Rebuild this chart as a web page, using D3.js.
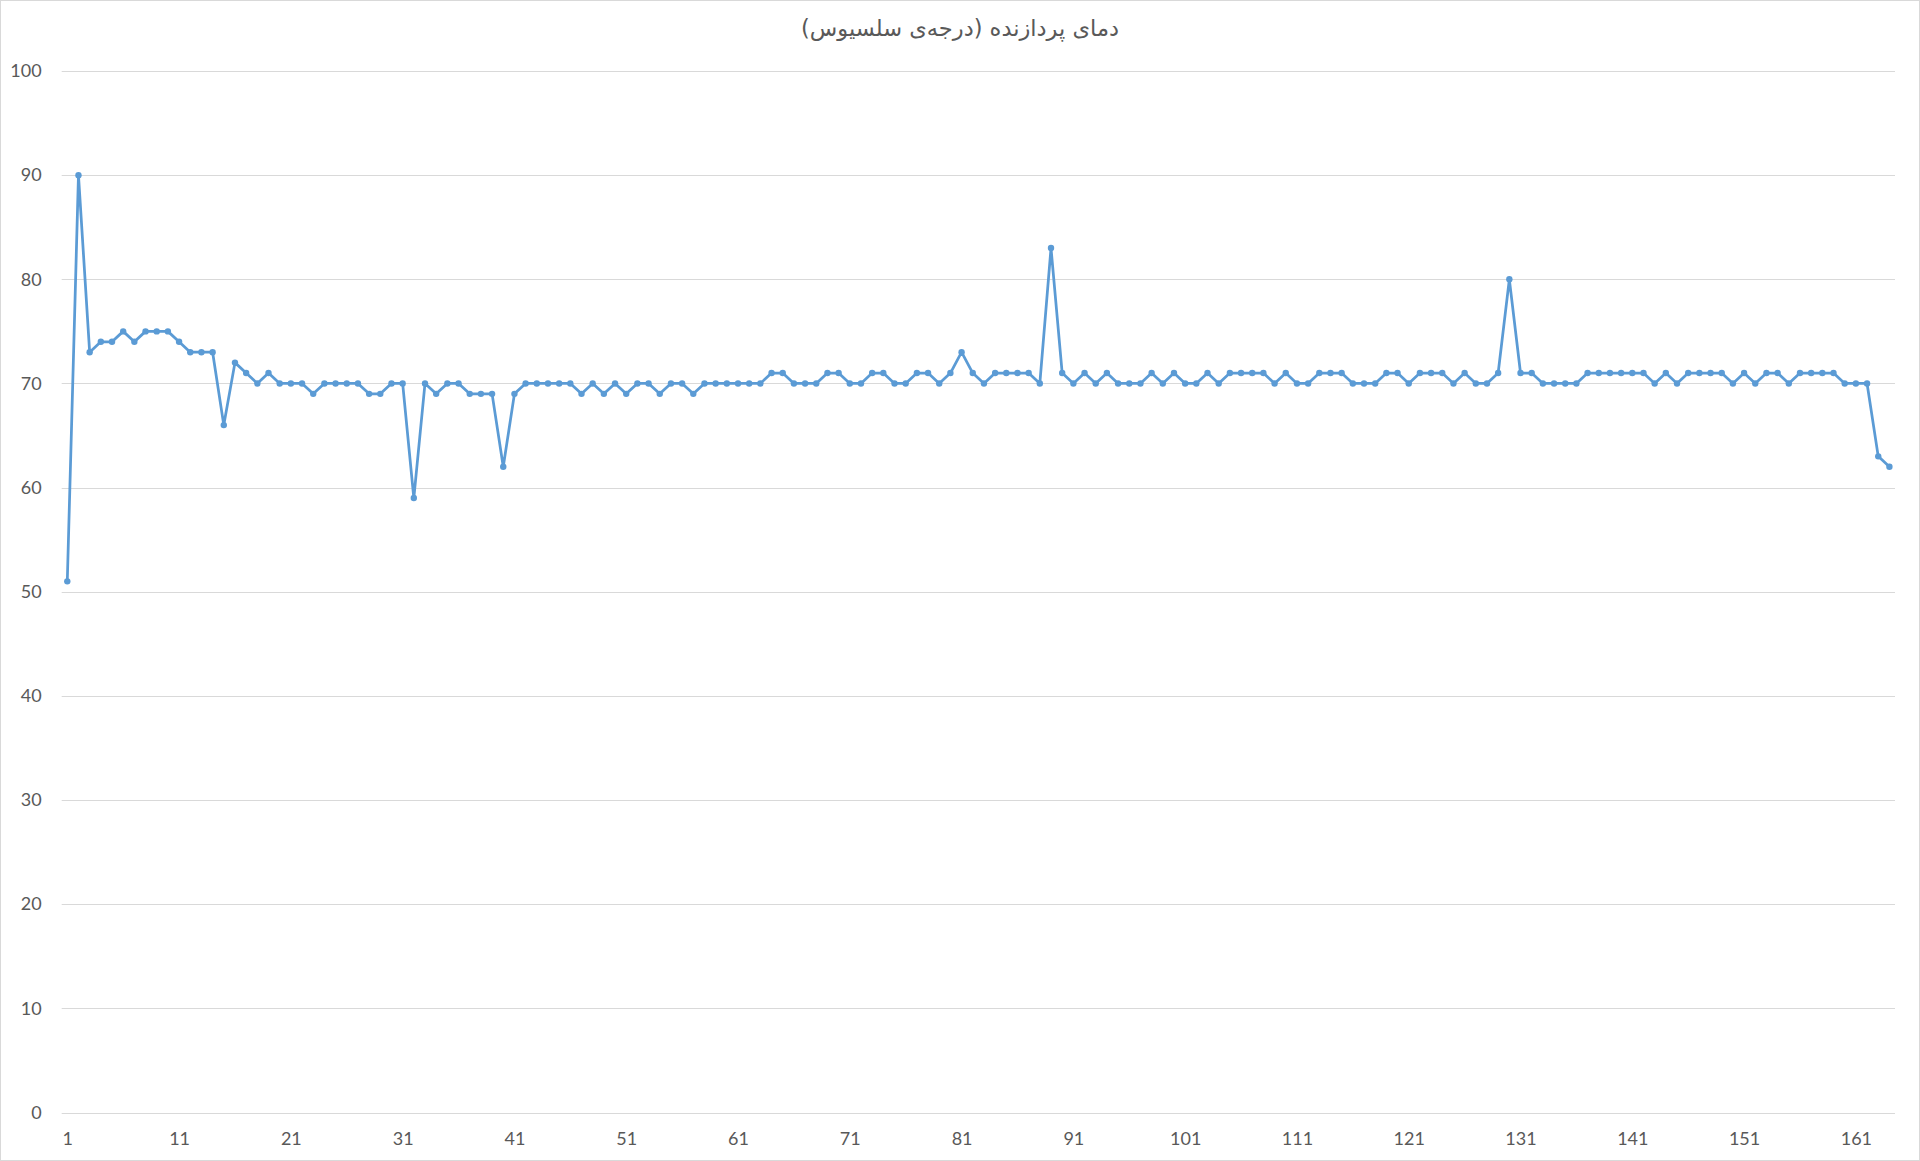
<!DOCTYPE html>
<html>
<head>
<meta charset="utf-8">
<script src="https://cdn.jsdelivr.net/npm/d3@7"></script>
<style>
  html, body { margin: 0; padding: 0; background: #fff; }
  svg { display: block; }
</style>
</head>
<body>
<svg id="chart" width="1920" height="1161"></svg>
<script>
const title = "دمای پردازنده (درجه‌ی سلسیوس)";
const temperatures = [
  51, 90, 73, 74, 74, 75, 74, 75, 75, 75,
  74, 73, 73, 73, 66, 72, 71, 70, 71, 70,
  70, 70, 69, 70, 70, 70, 70, 69, 69, 70,
  70, 59, 70, 69, 70, 70, 69, 69, 69, 62,
  69, 70, 70, 70, 70, 70, 69, 70, 69, 70,
  69, 70, 70, 69, 70, 70, 69, 70, 70, 70,
  70, 70, 70, 71, 71, 70, 70, 70, 71, 71,
  70, 70, 71, 71, 70, 70, 71, 71, 70, 71,
  73, 71, 70, 71, 71, 71, 71, 70, 83, 71,
  70, 71, 70, 71, 70, 70, 70, 71, 70, 71,
  70, 70, 71, 70, 71, 71, 71, 71, 70, 71,
  70, 70, 71, 71, 71, 70, 70, 70, 71, 71,
  70, 71, 71, 71, 70, 71, 70, 70, 71, 80,
  71, 71, 70, 70, 70, 70, 71, 71, 71, 71,
  71, 71, 70, 71, 70, 71, 71, 71, 71, 70,
  71, 70, 71, 71, 70, 71, 71, 71, 71, 70,
  70, 70, 63, 62
];
const categories = temperatures.map((_, i) => i + 1);
const xTickLabels = [1, 11, 21, 31, 41, 51, 61, 71, 81, 91, 101, 111, 121, 131, 141, 151, 161];
const yTicks = [0, 10, 20, 30, 40, 50, 60, 70, 80, 90, 100];

(function () {
const svg = d3.select("#chart");
const W = 1920, H = 1161;
const textColor = "#595959";
const lineColor = "#5B9BD5";
const labelFont = "Lato, 'Open Sans', sans-serif";

svg.append("rect").attr("x", 0.5).attr("y", 0.5).attr("width", W - 1).attr("height", H - 1)
  .attr("fill", "#fff").attr("stroke", "#D9D9D9");

const pLeft = 61.7, pRight = 1895, pTop = 71, pBottom = 1112.5;
const x = d3.scalePoint().domain(categories).range([pLeft, pRight]).padding(0.5);
const y = d3.scaleLinear().domain([0, 100]).range([pBottom, pTop]);

svg.append("g").selectAll("line").data(yTicks).join("line")
  .attr("x1", pLeft).attr("x2", pRight)
  .attr("y1", d => Math.round(y(d)) + 0.5).attr("y2", d => Math.round(y(d)) + 0.5)
  .attr("stroke", "#D9D9D9").attr("stroke-width", 1);

const yAxis = d3.axisLeft(y).tickValues(yTicks).tickSize(0).tickPadding(0);
const yg = svg.append("g").attr("transform", `translate(${pLeft - 20},0)`).call(yAxis);
yg.select(".domain").remove();
yg.selectAll("text").attr("fill", textColor).attr("font-family", labelFont).attr("font-size", 18);

const xAxis = d3.axisBottom(x).tickValues(xTickLabels).tickSize(0).tickPadding(0);
const xg = svg.append("g").attr("transform", `translate(0,${pBottom + 19.5})`).call(xAxis);
xg.select(".domain").remove();
xg.selectAll("text").attr("fill", textColor).attr("font-family", labelFont).attr("font-size", 18);

const line = d3.line().x((d, i) => x(categories[i])).y(d => y(d));
svg.append("path").datum(temperatures).attr("d", line)
  .attr("fill", "none").attr("stroke", lineColor).attr("stroke-width", 2.75)
  .attr("stroke-linejoin", "round").attr("stroke-linecap", "round");

svg.append("g").selectAll("circle").data(temperatures).join("circle")
  .attr("cx", (d, i) => x(categories[i])).attr("cy", d => y(d)).attr("r", 3.2)
  .attr("fill", lineColor);

svg.append("text").attr("x", W / 2).attr("y", 36).attr("text-anchor", "middle")
  .attr("direction", "rtl")
  .attr("fill", textColor).attr("font-family", "'DejaVu Sans', sans-serif").attr("font-size", 22.5)
  .text(title);
})();
</script>
</body>
</html>
